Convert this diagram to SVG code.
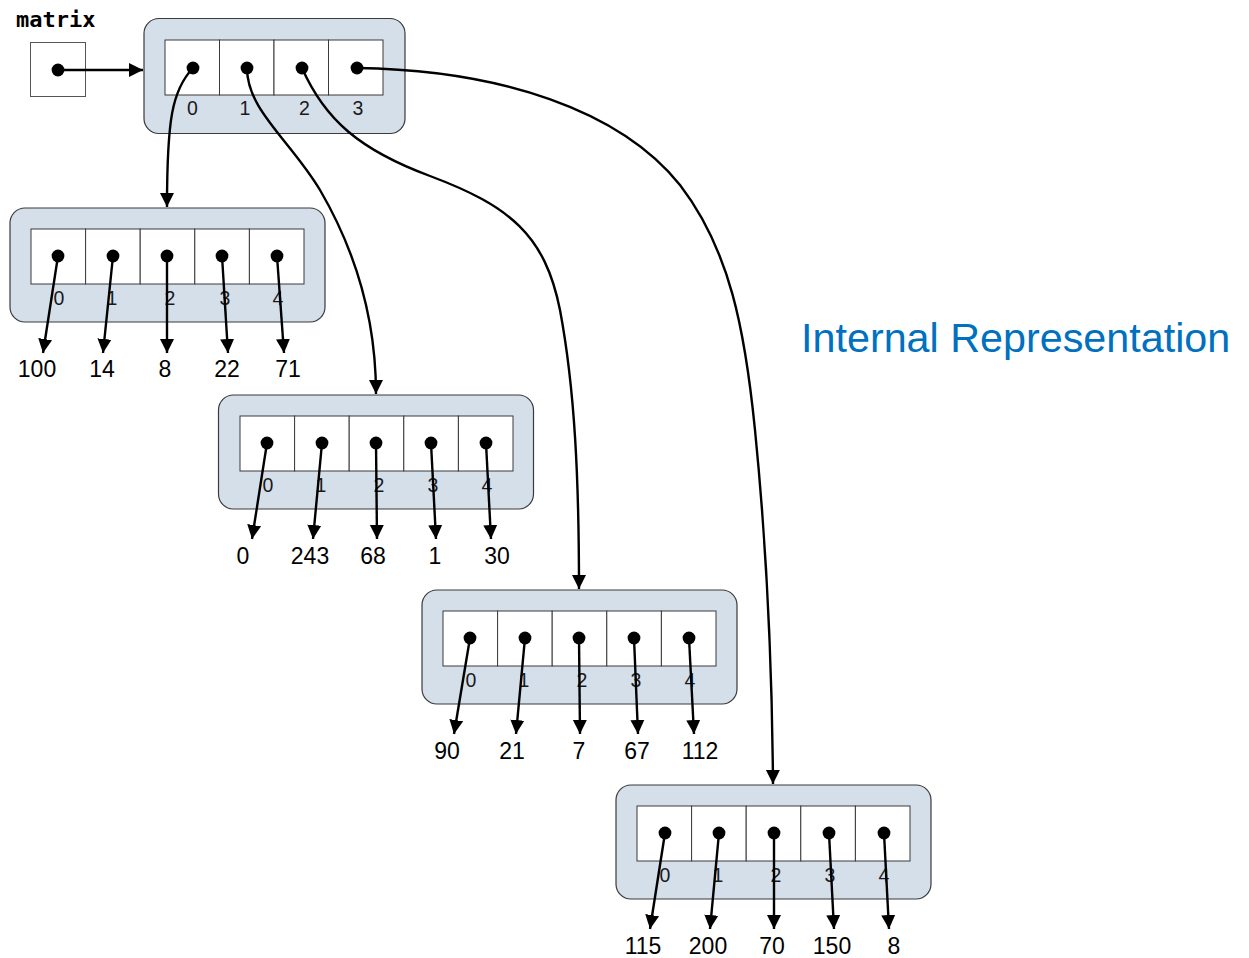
<svg xmlns="http://www.w3.org/2000/svg" width="1249" height="958" viewBox="0 0 1249 958">
<style>
.bg{fill:#ffffff}
.panel{fill:#d5dfea;stroke:#3a3a3a;stroke-width:1.2}
.cell{fill:#ffffff;stroke:#3a3a3a;stroke-width:1}
.idx{font-family:"Liberation Sans",Arial,sans-serif;font-size:19.5px;fill:#1a1a1a;text-anchor:middle}
.val{font-family:"Liberation Sans",Arial,sans-serif;font-size:23px;fill:#000;text-anchor:middle}
.var{font-family:"DejaVu Sans Mono","Liberation Mono",monospace;font-weight:bold;font-size:22px;fill:#000}
.title{font-family:"Liberation Sans",Arial,sans-serif;font-size:41.3px;fill:#0070c0}
.ptr{fill:none;stroke:#000;stroke-width:2.4;marker-start:url(#dot);marker-end:url(#ah)}
</style>
<defs>
<marker id="ah" markerUnits="userSpaceOnUse" markerWidth="15" markerHeight="15" viewBox="0 0 15 15" refX="14" refY="7.5" orient="auto">
<path d="M0,0.5 L14,7.5 L0,14.5 Z" fill="#000"/>
</marker>
<marker id="dot" markerUnits="userSpaceOnUse" markerWidth="14" markerHeight="14" viewBox="-7 -7 14 14" refX="0" refY="0" orient="0">
<circle cx="0" cy="0" r="6.4" fill="#000"/>
</marker>
</defs>
<rect class="bg" x="0" y="0" width="1249" height="958"/>

<g id="matrix-var">
<text class="var" x="16" y="27">matrix</text>
<rect x="30.5" y="42.5" width="55" height="54" fill="#fff" stroke="#555" stroke-width="1"/>
</g>

<g id="outer-array">
<rect class="panel" x="144" y="18.5" width="261" height="115" rx="15"/>
<rect class="cell" x="165" y="40" width="54.5" height="55"/>
<rect class="cell" x="219.5" y="40" width="54.5" height="55"/>
<rect class="cell" x="274" y="40" width="54.5" height="55"/>
<rect class="cell" x="328.5" y="40" width="54.5" height="55"/>
<text class="idx" x="192.5" y="115">0</text>
<text class="idx" x="245" y="115">1</text>
<text class="idx" x="304.5" y="115">2</text>
<text class="idx" x="358" y="115">3</text>
</g>

<g id="row-0">
<rect class="panel" x="10" y="208" width="315" height="114" rx="15"/>
<rect class="cell" x="31" y="229" width="54.6" height="55"/>
<rect class="cell" x="85.6" y="229" width="54.6" height="55"/>
<rect class="cell" x="140.2" y="229" width="54.6" height="55"/>
<rect class="cell" x="194.8" y="229" width="54.6" height="55"/>
<rect class="cell" x="249.4" y="229" width="54.6" height="55"/>
<text class="idx" x="59" y="305">0</text>
<text class="idx" x="112" y="305">1</text>
<text class="idx" x="170" y="305">2</text>
<text class="idx" x="225" y="305">3</text>
<text class="idx" x="278" y="305">4</text>
<text class="val" x="37" y="377">100</text>
<text class="val" x="102" y="377">14</text>
<text class="val" x="165" y="377">8</text>
<text class="val" x="227" y="377">22</text>
<text class="val" x="288" y="377">71</text>
</g>

<g id="row-1">
<rect class="panel" x="218.5" y="395" width="315" height="114" rx="15"/>
<rect class="cell" x="240" y="416" width="54.6" height="55"/>
<rect class="cell" x="294.6" y="416" width="54.6" height="55"/>
<rect class="cell" x="349.2" y="416" width="54.6" height="55"/>
<rect class="cell" x="403.8" y="416" width="54.6" height="55"/>
<rect class="cell" x="458.4" y="416" width="54.6" height="55"/>
<text class="idx" x="268" y="492">0</text>
<text class="idx" x="321" y="492">1</text>
<text class="idx" x="379" y="492">2</text>
<text class="idx" x="433" y="492">3</text>
<text class="idx" x="487" y="492">4</text>
<text class="val" x="243" y="564">0</text>
<text class="val" x="310" y="564">243</text>
<text class="val" x="373" y="564">68</text>
<text class="val" x="435" y="564">1</text>
<text class="val" x="497" y="564">30</text>
</g>

<g id="row-2">
<rect class="panel" x="422" y="590" width="315" height="114" rx="15"/>
<rect class="cell" x="443" y="611" width="54.6" height="55"/>
<rect class="cell" x="497.6" y="611" width="54.6" height="55"/>
<rect class="cell" x="552.2" y="611" width="54.6" height="55"/>
<rect class="cell" x="606.8" y="611" width="54.6" height="55"/>
<rect class="cell" x="661.4" y="611" width="54.6" height="55"/>
<text class="idx" x="471" y="687">0</text>
<text class="idx" x="524" y="687">1</text>
<text class="idx" x="582" y="687">2</text>
<text class="idx" x="636" y="687">3</text>
<text class="idx" x="690" y="687">4</text>
<text class="val" x="447" y="759">90</text>
<text class="val" x="512" y="759">21</text>
<text class="val" x="579" y="759">7</text>
<text class="val" x="637" y="759">67</text>
<text class="val" x="700" y="759">112</text>
</g>

<g id="row-3">
<rect class="panel" x="616" y="785" width="315" height="114" rx="15"/>
<rect class="cell" x="637" y="806" width="54.6" height="55"/>
<rect class="cell" x="691.6" y="806" width="54.6" height="55"/>
<rect class="cell" x="746.2" y="806" width="54.6" height="55"/>
<rect class="cell" x="800.8" y="806" width="54.6" height="55"/>
<rect class="cell" x="855.4" y="806" width="54.6" height="55"/>
<text class="idx" x="665" y="882">0</text>
<text class="idx" x="718" y="882">1</text>
<text class="idx" x="776" y="882">2</text>
<text class="idx" x="830" y="882">3</text>
<text class="idx" x="884" y="882">4</text>
<text class="val" x="643" y="954">115</text>
<text class="val" x="708" y="954">200</text>
<text class="val" x="772" y="954">70</text>
<text class="val" x="832" y="954">150</text>
<text class="val" x="894" y="954">8</text>
</g>

<g id="title">
<text class="title" x="801" y="352">Internal Representation</text>
</g>

<g id="connectors">
<path class="ptr" d="M58,70 L143,70"/>
<path class="ptr" d="M193,68 C172,90 167,120 167,207"/>
<path class="ptr" d="M247,68 C247,110 290,140 320,190 C355,250 376,320 376,394"/>
<path class="ptr" d="M302,68 C325,120 360,150 430,176 C510,206 545,235 560,310 C575,390 579,480 579,589"/>
<path class="ptr" d="M357,68 C500,70 620,110 680,185 C730,250 745,330 755,430 C765,530 772,650 773,784"/>

<path class="ptr" d="M58,256 L43,353"/>
<path class="ptr" d="M113,256 L103,353"/>
<path class="ptr" d="M167,256 L167,353"/>
<path class="ptr" d="M222,256 L228,353"/>
<path class="ptr" d="M277,256 L284,353"/>

<path class="ptr" d="M267,443 L252,539"/>
<path class="ptr" d="M322,443 L313,539"/>
<path class="ptr" d="M376,443 L377,539"/>
<path class="ptr" d="M431,443 L436,539"/>
<path class="ptr" d="M486,443 L491,539"/>

<path class="ptr" d="M470,638 L454,734"/>
<path class="ptr" d="M525,638 L516,734"/>
<path class="ptr" d="M579,638 L580,734"/>
<path class="ptr" d="M634,638 L638,734"/>
<path class="ptr" d="M689,638 L694,734"/>

<path class="ptr" d="M665,833 L650,929"/>
<path class="ptr" d="M719,833 L710,929"/>
<path class="ptr" d="M774,833 L774,929"/>
<path class="ptr" d="M829,833 L834,929"/>
<path class="ptr" d="M884,833 L889,929"/>
</g>
</svg>
